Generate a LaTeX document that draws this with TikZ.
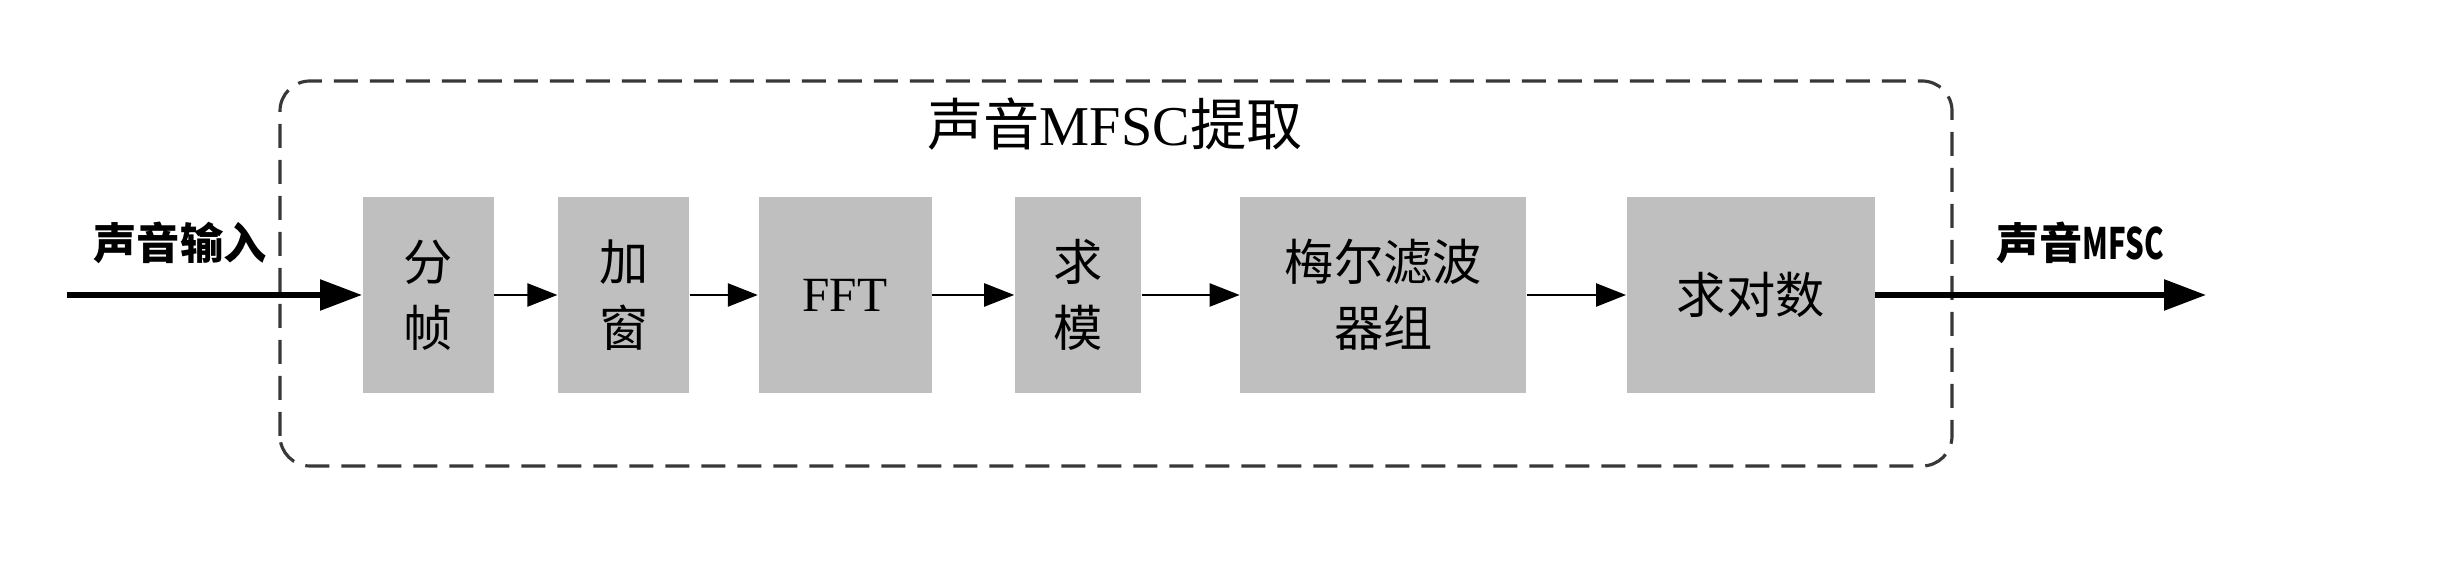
\documentclass[tikz,border=0pt]{standalone}
\usepackage{fontspec}
\setmainfont{Liberation Serif}
\newfontfamily\cjk{Noto Sans CJK SC}
\usetikzlibrary{arrows.meta,positioning}
\definecolor{boxgray}{RGB}{191,191,191}
\definecolor{framegray}{RGB}{56,56,56}

\begin{document}
\begin{tikzpicture}[
  node distance=6.3mm,
  box/.style={fill=boxgray,align=center,minimum height=19.6mm,inner sep=0pt,
    font=\fontsize{14}{18.8}\selectfont\cjk},
  arrow/.style={-{Triangle[length=3mm,width=2.3mm]},line width=0.7pt},
  bigarrow/.style={-{Triangle[length=4.2mm,width=3mm]},line width=1.6pt},
  tag/.style={font=\fontsize{12.3}{15}\selectfont\cjk\bfseries}
]
  \useasboundingbox (0,0) rectangle (24.37,5.81);
  % dashed frame of the extraction stage
  \draw[framegray,line width=0.9pt,dash pattern=on 2.4mm off 1.2mm,rounded corners=3mm]
    (2.80,1.15) rectangle (19.52,5.00);
  \node[font=\fontsize{16}{18}\selectfont] (title) at (11.15,4.57) {{\cjk 声音}MFSC{\cjk 提取}};

  \node[box,minimum width=13.1mm,anchor=west] (frame) at (3.62,2.86) {分\\帧};
  \node[box,minimum width=13.1mm,right=6.3mm of frame] (window) {加\\窗};
  \node[box,minimum width=17.3mm,right=6.8mm of window,font=\fontsize{14}{18.8}\selectfont] (fft) {FFT};
  \node[box,minimum width=12.6mm,right=8.2mm of fft] (modulus) {求\\模};
  \node[box,minimum width=28.6mm,right=9.8mm of modulus] (melbank) {梅尔滤波\\器组};
  \node[box,minimum width=24.8mm,right=9.9mm of melbank] (logarithm) {求对数};

  \coordinate (in) at (0.67,2.86);
  \coordinate (out) at (22.06,2.86);
  \node[tag] (inlabel) at (1.80,3.38) {声音输入};
  \node[tag] (outlabel) at (20.80,3.38) {声音\scalebox{0.68}[1]{MFSC}};

  \draw[bigarrow] (in) -- (frame);
  \draw[arrow] (frame) -- (window);
  \draw[arrow] (window) -- (fft);
  \draw[arrow] (fft) -- (modulus);
  \draw[arrow] (modulus) -- (melbank);
  \draw[arrow] (melbank) -- (logarithm);
  \draw[bigarrow] (logarithm) -- (out);
\end{tikzpicture}
\end{document}
